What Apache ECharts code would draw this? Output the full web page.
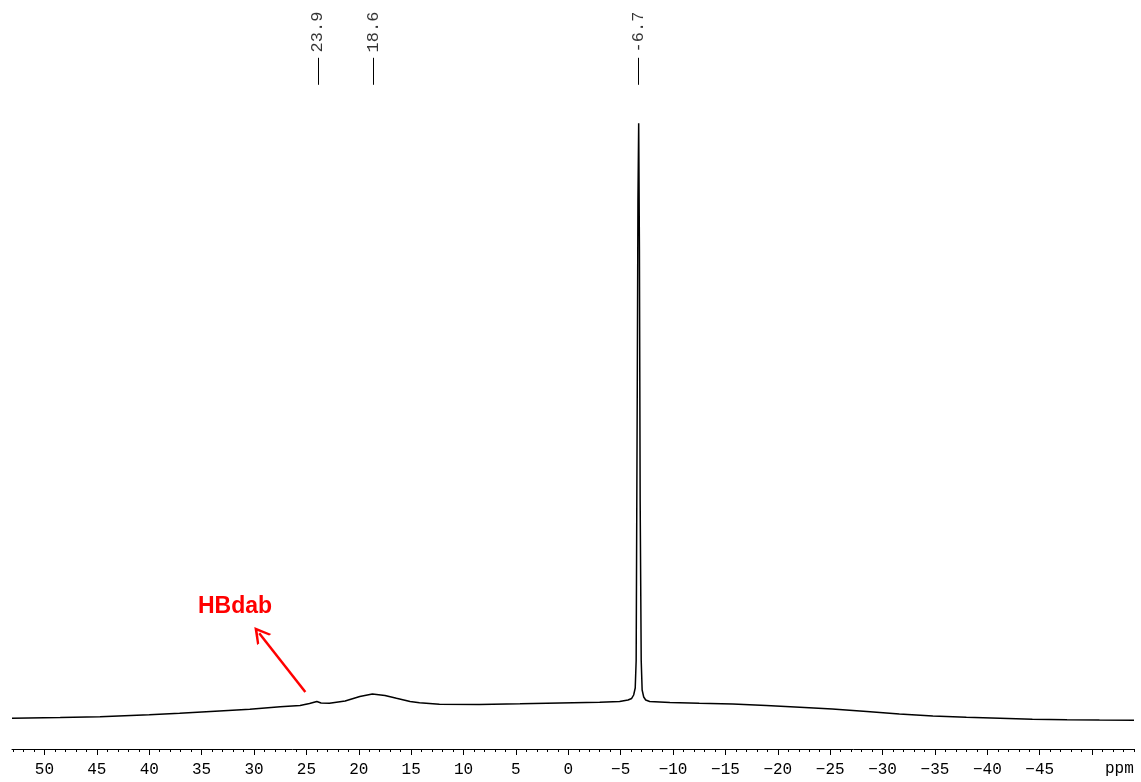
<!DOCTYPE html>
<html>
<head>
<meta charset="utf-8">
<script src="https://cdn.jsdelivr.net/npm/echarts@6.0.0/dist/echarts.min.js"></script>
<style>
html, body { margin: 0; padding: 0; background: #fff; }
#main { width: 1141px; height: 782px; }
</style>
</head>
<body>
<div id="main"></div>
<script>
// spectrum (ppm, intensity in arbitrary units)
var ppm = [53.1, 48.5, 44.7, 40.0, 37.1, 33.3, 30.4, 27.5, 25.6, 24.7, 24.0, 23.6, 22.8, 21.3, 19.9, 18.7, 17.5, 16.4, 15.1, 14.2, 12.3, 8.5, 4.6, 0.8, -3.0, -4.9, -5.7, -6.05, -6.24, -6.39, -6.48, -6.58, -6.65, -6.72, -6.79, -6.86, -6.96, -7.05, -7.2, -7.39, -7.77, -9.7, -12.5, -15.7, -18.9, -22.1, -25.2, -28.5, -31.6, -34.8, -38.0, -41.2, -44.3, -47.6, -50.7, -54.0];
var intensity = [0.62, 0.73, 0.87, 1.2, 1.45, 1.83, 2.12, 2.55, 2.75, 3.08, 3.42, 3.17, 3.12, 3.5, 4.25, 4.67, 4.42, 3.95, 3.42, 3.22, 2.95, 2.92, 3.03, 3.17, 3.28, 3.42, 3.67, 3.92, 4.5, 5.67, 10.3, 53.7, 87, 99.8, 78.7, 37, 10.3, 5.33, 4.17, 3.67, 3.42, 3.25, 3.12, 3.0, 2.75, 2.45, 2.17, 1.75, 1.33, 1.0, 0.78, 0.62, 0.45, 0.38, 0.33, 0.3];

var peakPos = [23.9, 18.6, -6.7];
var peakText = ['23.9', '18.6', '-6.7'];

var majorTicks = [50, 45, 40, 35, 30, 25, 20, 15, 10, 5, 0, -5, -10, -15, -20, -25, -30, -35, -40, -45, -50];
var tickLabels = [50, 45, 40, 35, 30, 25, 20, 15, 10, 5, 0, -5, -10, -15, -20, -25, -30, -35, -40, -45];

var minorTicks = [];
for (var t = 53; t >= -54; t--) {
	minorTicks.push(t);
}

var lineData = [];
for (var i = 0; i < ppm.length; i++) {
	lineData.push([ppm[i], intensity[i]]);
}

var peakData = [];
var peakLines = [];
for (var j = 0; j < peakPos.length; j++) {
	peakData.push({ value : [peakPos[j], 111.6], name : peakText[j] });
	peakLines.push([ { coord : [peakPos[j], 106.2] }, { coord : [peakPos[j], 110.7] } ]);
}

var mono = 'Liberation Mono';

var dom = document.getElementById('main');
var myChart = echarts.init(dom);

var option = {
	animation : false,
	backgroundColor : '#fff',
	grid : {
		left : 12,
		right : 7,
		top : 2,
		bottom : 60
	},
	xAxis : [ {
		type : 'value',
		position : 'bottom',
		min : -54,
		max : 53.1,
		inverse : true,
		offset : 27,
		axisLine : { onZero : false, lineStyle : { color : '#000', width : 1 } },
		axisTick : {
			show : true,
			customValues : majorTicks,
			length : 6,
			lineStyle : { color : '#000', width : 1 }
		},
		axisLabel : {
			customValues : tickLabels,
			margin : 13,
			color : '#000',
			fontFamily : mono,
			fontSize : 16,
			formatter : function(v) {
				return String(v).replace('-', '\u2212');
			}
		},
		splitLine : { show : false }
	}, {
		type : 'value',
		position : 'bottom',
		min : -54,
		max : 53.1,
		inverse : true,
		offset : 27,
		axisLine : { show : false, onZero : false },
		axisTick : {
			show : true,
			customValues : minorTicks,
			length : 3,
			lineStyle : { color : '#000', width : 1 }
		},
		axisLabel : { show : false },
		splitLine : { show : false }
	} ],
	yAxis : {
		type : 'value',
		min : 0,
		max : 120,
		show : false
	},
	graphic : [ {
		type : 'text',
		left : 1105,
		top : 761,
		style : {
			text : 'ppm',
			fill : '#000',
			font : '16px "Liberation Mono"'
		}
	}, {
		type : 'text',
		left : 198,
		top : 595,
		style : {
			text : 'HBdab',
			fill : '#ff0000',
			font : 'bold 23px "Liberation Sans"'
		}
	} ],
	series : [ {
		name : 'spectrum',
		type : 'line',
		xAxisIndex : 0,
		data : lineData,
		showSymbol : false,
		symbol : 'none',
		lineStyle : { color : '#000', width : 1.5 },
		markLine : {
			silent : true,
			symbol : [ 'none', 'path://M0,12 L6,0 L12,12 L10.2,12 L6,4 L1.8,12 Z' ],
			symbolSize : [ 18, 16 ],
			label : { show : false },
			lineStyle : { color : '#ff0000', width : 2.5, type : 'solid' },
			data : [ [ { coord : [25.1, 5.0] }, { coord : [29.5, 14.8] } ] ]
		}
	}, {
		name : 'peaks',
		type : 'scatter',
		xAxisIndex : 0,
		data : peakData,
		symbolSize : 1,
		itemStyle : { color : 'rgba(0,0,0,0)' },
		label : {
			show : true,
			position : 'inside',
			rotate : 90,
			align : 'left',
			verticalAlign : 'middle',
			formatter : '{b}',
			color : '#000',
			fontFamily : mono,
			fontSize : 17
		},
		markLine : {
			silent : true,
			symbol : 'none',
			label : { show : false },
			lineStyle : { color : '#000', width : 1, type : 'solid' },
			data : peakLines
		}
	} ]
};

myChart.setOption(option, true);
</script>
</body>
</html>
